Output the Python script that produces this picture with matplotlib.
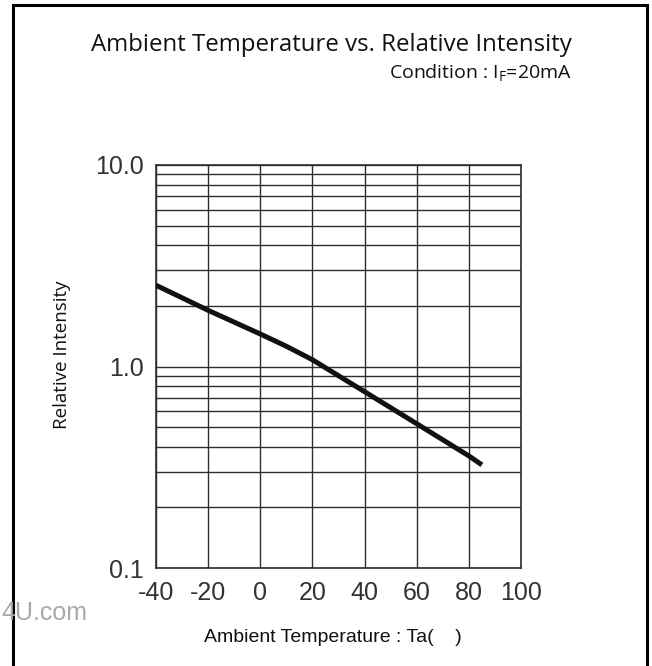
import numpy as np
import matplotlib
matplotlib.use("Agg")
import matplotlib.pyplot as plt
from matplotlib.patches import Rectangle
from matplotlib.ticker import FixedLocator, NullFormatter

plt.rcParams["mathtext.fontset"] = "custom"
plt.rcParams["mathtext.rm"] = "Open Sans"

# relative intensity, I_F = 20 mA
temp_c = [-40, -20, 0, 10, 20, 30, 40, 60, 80, 85]
rel_intensity = [2.53, 1.90, 1.45, 1.26, 1.08, 0.90, 0.75, 0.52, 0.36, 0.325]

x_ticks = [-40, -20, 0, 20, 40, 60, 80, 100]
y_ticks = [0.1, 1.0, 10.0]
y_tick_labels = ["0.1", "1.0", "10.0"]

W, H = 652, 666
fig = plt.figure(figsize=(W / 100, H / 100), dpi=100)
fig.patch.set_facecolor("white")

# outer frame of the datasheet panel (runs off the bottom edge)
fig.patches.append(Rectangle((13 / W, -0.02), (647 - 13) / W, 1.02 - 5 / H,
                             transform=fig.transFigure, fill=False,
                             edgecolor="black", lw=2.2))

ax = fig.add_axes([156 / W, 1 - 568 / H, (521 - 156) / W, (568 - 165) / H])
ax.set_yscale("log")
ax.set_xlim(-40, 100)
ax.set_ylim(0.1, 10.0)

grid_col = "#2e2e2e"
minor_y = [m * 10.0 ** e for e in (-1, 0) for m in range(2, 10)]
ax.yaxis.set_major_locator(FixedLocator(y_ticks))
ax.yaxis.set_minor_locator(FixedLocator(minor_y))
ax.yaxis.set_minor_formatter(NullFormatter())
ax.set_yticklabels(y_tick_labels)
ax.set_xticks(x_ticks)
ax.set_xticklabels([str(v) for v in x_ticks])
ax.grid(True, which="both", color=grid_col, lw=1.0)
for s in ax.spines.values():
    s.set_color(grid_col)
    s.set_linewidth(1.2)

tick_family = ["Liberation Sans Narrow", "Liberation Sans"]
ax.tick_params(which="both", length=0, colors="#333333")
ax.tick_params(axis="x", pad=9)
ax.tick_params(axis="y", pad=9)
for lab in ax.get_xticklabels() + ax.get_yticklabels():
    lab.set_fontfamily(tick_family)
    lab.set_fontsize(18)

ax.plot(temp_c, rel_intensity, color="#111111", lw=3.6, solid_capstyle="butt",
        zorder=3)

fig.text(331 / W, 1 - 45 / H, "Ambient Temperature vs. Relative Intensity",
         ha="center", va="center", fontsize=17.3, family="Open Sans",
         color="#111111")
fig.text(572 / W, 1 - 73 / H, r"Condition : I$_\mathrm{F}$=20mA",
         ha="right", va="center", fontsize=14, family="Open Sans",
         color="#111111")

fig.text(62 / W, 1 - 355 / H, "Relative Intensity", rotation=90,
         ha="center", va="center", fontsize=13.5, family="Open Sans",
         color="#111111")
fig.text(333 / W, 1 - 638 / H, "Ambient Temperature : Ta(    )",
         ha="center", va="center", fontsize=14, family="Liberation Sans",
         color="#111111")

fig.text(87 / W, 1 - 613 / H, "4U.com", ha="right", va="center",
         fontsize=18, family="Liberation Sans", color="#a8a8a8")

fig.savefig("out.png", dpi=100)
